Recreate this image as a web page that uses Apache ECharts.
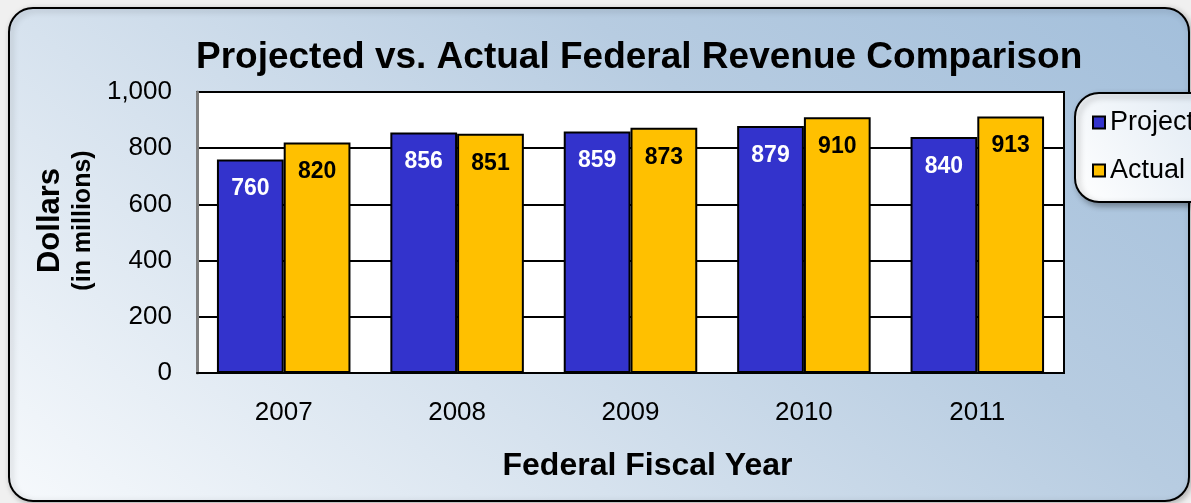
<!DOCTYPE html>
<html><head><meta charset="utf-8">
<script src="https://cdn.jsdelivr.net/npm/echarts@6/dist/echarts.min.js"></script>
<style>html,body{margin:0;padding:0;background:#f0f0f0;}#c{width:1191px;height:503px;}</style>
</head><body><div id="c"></div>
<script>
const categories = ['2007', '2008', '2009', '2010', '2011'];
const projected = [760, 856, 859, 879, 840];
const actual = [820, 851, 873, 910, 913];
const yTicks = [0, 200, 400, 600, 800, 1000];

const FONT = '"Liberation Sans", Arial, sans-serif';
const chart = echarts.init(document.getElementById('c'));
chart.setOption({
  animation: false,
  textStyle: { fontFamily: FONT },
  graphic: { elements: [{
    type: 'rect', z: -100, silent: true,
    shape: { x: 9, y: 8, width: 1180, height: 493, r: 24 },
    style: {
      fill: { type: 'linear', global: true, x: 9, y: 501, x2: 713, y2: -373, colorStops: [
        { offset: 0, color: '#f6f9fc' }, { offset: 0.34, color: '#d6e2ee' },
        { offset: 0.66, color: '#b7cce1' }, { offset: 1, color: '#a3bfdb' }] },
      stroke: '#000', lineWidth: 2,
      shadowBlur: 6, shadowColor: 'rgba(0,0,0,0.25)', shadowOffsetX: 2, shadowOffsetY: 2
    }
  }]},
  title: {
    text: 'Projected vs. Actual Federal Revenue Comparison',
    left: 191, top: 34,
    textStyle: { fontFamily: FONT, fontSize: 37, fontWeight: 'bold', color: '#000' }
  },
  legend: {
    orient: 'vertical', left: 1075, top: 93,
    padding: [16, 20, 18, 17], itemGap: 21,
    itemWidth: 12, itemHeight: 12, icon: 'rect',
    borderColor: '#000', borderWidth: 2, borderRadius: 24,
    backgroundColor: { type: 'linear', x: 0, y: 1, x2: 1, y2: 0, colorStops: [
      { offset: 0, color: '#ffffff' }, { offset: 1, color: '#dbe6f1' }] },
    shadowBlur: 6, shadowColor: 'rgba(0,0,0,0.35)', shadowOffsetX: 3, shadowOffsetY: 3,
    textStyle: { fontFamily: FONT, fontSize: 27, color: '#000', padding: [0, 0, 0, 0] },
    data: ['Projected', 'Actual']
  },
  grid: {
    left: 197, right: 127, top: 92, bottom: 130,
    show: true, backgroundColor: '#fff', borderColor: '#000', borderWidth: 2
  },
  xAxis: {
    type: 'category', data: categories,
    axisLine: { lineStyle: { color: '#000', width: 2 } },
    axisTick: { show: false },
    axisLabel: { fontFamily: FONT, fontSize: 26, color: '#000', margin: 27 },
    name: 'Federal Fiscal Year', nameLocation: 'middle', nameGap: 77,
    nameTextStyle: { fontFamily: FONT, fontSize: 32, fontWeight: 'bold', color: '#000', padding: [0, 0, 0, 34] }
  },
  yAxis: {
    type: 'value', min: yTicks[0], max: yTicks[yTicks.length - 1], interval: 200,
    axisLine: { show: true, lineStyle: { color: '#808080', width: 3 } },
    axisTick: { show: false },
    splitLine: { lineStyle: { color: '#000', width: 2 } },
    axisLabel: { fontFamily: FONT, fontSize: 26, color: '#000', margin: 25,
      formatter: v => v.toLocaleString('en-US') },
    name: '{a|Dollars}\n{b|(in millions)}', nameLocation: 'middle', nameRotate: 90, nameGap: 99,
    nameMoveOverlap: false,
    nameTextStyle: { fontFamily: FONT, align: 'center', padding: [10, 0, 0, 24],
      rich: {
        a: { fontFamily: FONT, fontSize: 31, fontWeight: 'bold', color: '#000', lineHeight: 36, align: 'center' },
        b: { fontFamily: FONT, fontSize: 25, fontWeight: 'bold', color: '#000', lineHeight: 30, align: 'center' }
      } }
  },
  series: [
    { name: 'Projected', type: 'bar', data: projected, barGap: '0%', barCategoryGap: '23%',
      itemStyle: { color: '#3333cc', borderColor: '#000', borderWidth: 2 },
      label: { show: true, position: 'insideTop', distance: 18, fontFamily: FONT, fontSize: 23, fontWeight: 'bold', color: '#fff' } },
    { name: 'Actual', type: 'bar', data: actual, barGap: '0%', barCategoryGap: '23%',
      itemStyle: { color: '#ffc000', borderColor: '#000', borderWidth: 2 },
      label: { show: true, position: 'insideTop', distance: 18, fontFamily: FONT, fontSize: 23, fontWeight: 'bold', color: '#000' } }
  ]
});
</script></body></html>
